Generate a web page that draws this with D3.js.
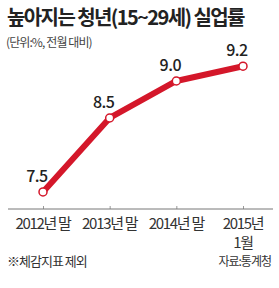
<!DOCTYPE html>
<html>
<head>
<meta charset="utf-8">
<script src="https://cdn.jsdelivr.net/npm/d3@7"></script>
<style>
  body { margin: 0; background: #fff; }
  text { font-family: "Noto Sans CJK KR", "Noto Sans", sans-serif; }
</style>
</head>
<body>
<div id="chart-area"></div>
<script>
// data
var periods = ["2012년 말", "2013년 말", "2014년 말", "2015년|1월"];
var rates = [7.5, 8.5, 9.0, 9.2];
var valueLabels = ["7.5", "8.5", "9.0", "9.2"];

var W = 279, H = 288;
var svg = d3.select("#chart-area").append("svg")
    .attr("width", W).attr("height", H);

// title
svg.append("text")
    .attr("x", 7).attr("y", 25)
    .attr("font-size", 20).attr("font-weight", 700)
    .attr("letter-spacing", -1.6)
    .attr("fill", "#222")
    .text("높아지는 청년(15~29세) 실업률");

svg.append("text")
    .attr("x", 6).attr("y", 47)
    .attr("font-size", 12)
    .attr("letter-spacing", -0.9)
    .attr("fill", "#444")
    .text("(단위:%, 전월 대비)");

// scales
var x = d3.scalePoint()
    .domain(periods)
    .range([43, 243]);

var y = d3.scaleLinear()
    .domain([7.27, 9.5])
    .range([209, 44]);

// axis
var xAxis = d3.axisBottom(x).tickSize(0).tickFormat("");
var axisG = svg.append("g")
    .attr("transform", "translate(0,209)")
    .call(xAxis);
axisG.select(".domain").remove();
axisG.append("line")
    .attr("x1", 8).attr("x2", 273)
    .attr("stroke", "#777").attr("stroke-width", 1);
axisG.selectAll(".tick").append("line")
    .attr("y1", 0).attr("y2", -3)
    .attr("stroke", "#999");

// tick labels
periods.forEach(function(p) {
    var lines = p.split("|");
    lines.forEach(function(l, j) {
        svg.append("text")
            .attr("x", x(p)).attr("y", 229 + j * 19)
            .attr("text-anchor", "middle")
            .attr("font-size", 15)
            .attr("letter-spacing", -1.3)
            .attr("fill", "#333")
            .text(l);
    });
});

// line
var line = d3.line()
    .x(function(d, i) { return x(periods[i]); })
    .y(function(d) { return y(d); });

svg.append("path")
    .datum(rates)
    .attr("d", line)
    .attr("fill", "none")
    .attr("stroke", "#d4172a")
    .attr("stroke-width", 6)
    .attr("stroke-linejoin", "round");

svg.selectAll("circle.pt")
    .data(rates)
  .enter().append("circle")
    .attr("class", "pt")
    .attr("cx", function(d, i) { return x(periods[i]); })
    .attr("cy", function(d) { return y(d); })
    .attr("r", 4)
    .attr("fill", "#fff")
    .attr("stroke", "#d4172a")
    .attr("stroke-width", 1.5);

svg.selectAll("text.val")
    .data(rates)
  .enter().append("text")
    .attr("class", "val")
    .attr("x", function(d, i) { return x(periods[i]) - 6; })
    .attr("y", function(d) { return y(d) - 10; })
    .attr("text-anchor", "middle")
    .attr("font-size", 16)
    .attr("font-weight", 500)
    .attr("letter-spacing", -0.5)
    .attr("fill", "#222")
    .text(function(d, i) { return valueLabels[i]; });

// footer
svg.append("text")
    .attr("x", 7).attr("y", 266)
    .attr("font-size", 13)
    .attr("letter-spacing", -1)
    .attr("fill", "#333")
    .text("※체감지표 제외");

svg.append("text")
    .attr("x", 271).attr("y", 266)
    .attr("text-anchor", "end")
    .attr("font-size", 12)
    .attr("letter-spacing", -1)
    .attr("fill", "#333")
    .text("자료:통계청");
</script>
</body>
</html>
